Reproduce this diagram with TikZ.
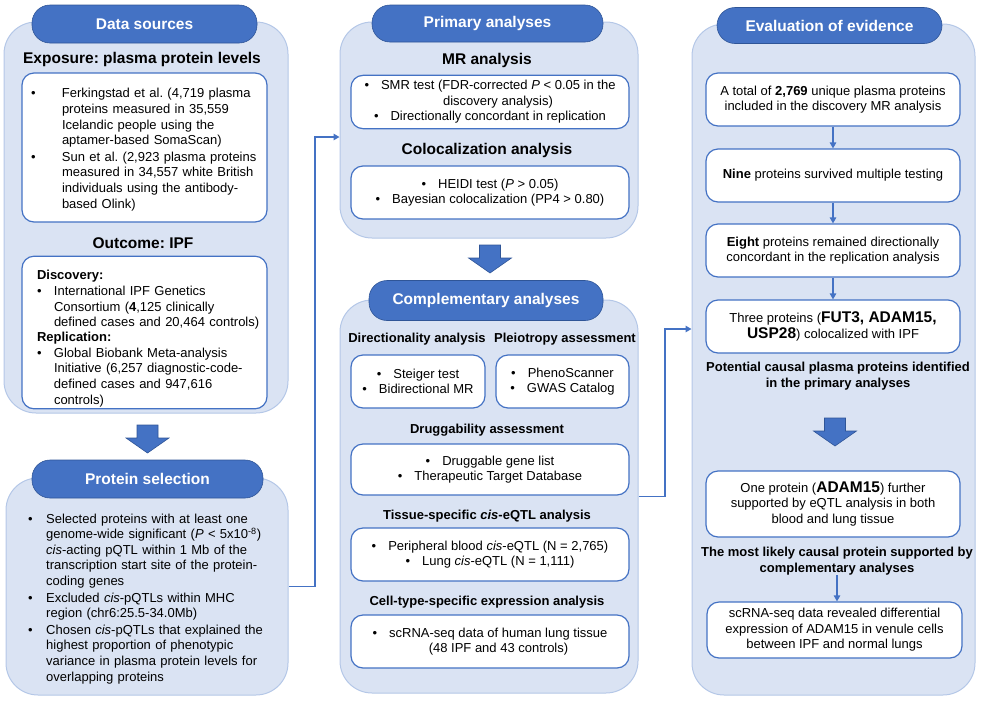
\documentclass[tikz,border=0pt]{standalone}
\usepackage{fontspec}
\setmainfont{Liberation Sans}
\usetikzlibrary{arrows.meta,calc}
\definecolor{panelfill}{HTML}{DAE3F3}
\definecolor{paneldraw}{HTML}{B4C7E7}
\definecolor{hdrblue}{HTML}{4472C4}
\definecolor{hdrdark}{HTML}{2F5597}
\newcommand\body{\fontsize{13}{15.6}\selectfont}
\newcommand\cb{\textbullet\hspace{12pt}}
\newcommand\bigb[1]{{\fontsize{15.5}{18}\selectfont\bfseries #1}}
\newcommand\bitem[2]{\par\noindent\makebox[#1][l]{\textbullet}\begin{tabular}[t]{@{}l@{}}#2\end{tabular}\par}
\tikzset{>={Triangle[length=6pt,width=6.5pt]}}
\tikzset{
  panel/.style={draw=paneldraw, fill=panelfill, line width=1pt, rounded corners=32pt, inner sep=0pt},
  hdr/.style={draw=hdrdark, fill=hdrblue, line width=.6pt, rounded corners=18pt, text=white,
    font=\fontsize{15.5}{18}\selectfont\bfseries, inner sep=0pt},
  inbox/.style={draw=hdrblue, fill=white, line width=1.2pt, rounded corners=12pt, inner sep=5pt, font=\body},
  ttl/.style={font=\fontsize{15.5}{18}\selectfont\bfseries, inner sep=0pt},
  sub/.style={font=\body\bfseries, inner sep=0pt, align=center},
  link/.style={->, draw=hdrblue, line width=1.4pt},
  pics/bigdown/.style={code={
    \draw[fill=hdrblue, draw=hdrdark, line width=.6pt]
      (-10.5,0) -- (10.5,0) -- (10.5,13) -- (21.5,13) -- (0,28) -- (-21.5,13) -- (-10.5,13) -- cycle;}}
}

\begin{document}
\frenchspacing
\begin{tikzpicture}[x=1pt, y=-1pt]
\useasboundingbox (0,0) rectangle (983,705);

% panels
\node[panel, minimum width=284, minimum height=391] (srcpanel) at (146,217.5) {};
\node[panel, minimum width=282, minimum height=217] (selpanel) at (147,586.5) {};
\node[panel, minimum width=298, minimum height=216] (primpanel) at (489,130) {};
\node[panel, minimum width=298, minimum height=393] (comppanel) at (489,496.5) {};
\node[panel, minimum width=283, minimum height=671] (evalpanel) at (833.5,359.5) {};

% headers
\node[hdr, minimum width=225, minimum height=38] (srchdr) at (144.5,24) {Data sources};
\node[hdr, minimum width=231, minimum height=38] (selhdr) at (147.5,479) {Protein selection};
\node[hdr, minimum width=231, minimum height=37] (primhdr) at (487.5,23.5) {Primary analyses};
\node[hdr, minimum width=234, minimum height=40] (comphdr) at (486,300.5) {Complementary analyses};
\node[hdr, minimum width=225, minimum height=36] (evalhdr) at (829.5,25.5) {Evaluation of evidence};

% data sources
\node[ttl] (exptitle) at (142,59) {Exposure: plasma protein levels};
\node[inbox, minimum width=245, minimum height=149, text width=227, align=left] (expbox) at (144.5,147.5)
  {\bitem{31pt}{Ferkingstad et al. (4,719 plasma\\ proteins measured in 35,559\\
   Icelandic people using the\\ aptamer-based SomaScan)}%
   \bitem{31pt}{Sun et al. (2,923 plasma proteins\\ measured in 34,557 white British\\
   individuals using the antibody-\\ based Olink)}};
\node[ttl] (outtitle) at (143,243) {Outcome: IPF};
\node[inbox, inner ysep=0pt, minimum width=245, minimum height=149, text width=215, align=left] (outbox) at (144.5,332.5)
  {\par\vspace*{8pt}\noindent\textbf{Discovery:}\par
   \bitem{17pt}{International IPF Genetics\\ Consortium (\textbf{4},125 clinically\\
   defined cases and 20,464 controls)}%
   \noindent\textbf{Replication:}\par
   \bitem{17pt}{Global Biobank Meta-analysis\\ Initiative (6,257 diagnostic-code-\\
   defined cases and 947,616\\ controls)}\vspace*{-8pt}};
\pic at (147.5,425) {bigdown};

% protein selection
\node[anchor=west, text width=250, align=left, font=\body, inner sep=0pt] (seltext) at (28,596.7)
  {\bitem{18pt}{Selected proteins with at least one\\
   genome-wide significant (\textit{P} < 5x10\textsuperscript{-8})\\
   \textit{cis}-acting pQTL within 1 Mb of the\\
   transcription start site of the protein-\\ coding genes}%
   \bitem{18pt}{Excluded \textit{cis}-pQTLs within MHC\\ region (chr6:25.5-34.0Mb)}%
   \bitem{18pt}{Chosen \textit{cis}-pQTLs that explained the\\ highest proportion of phenotypic\\
   variance in plasma protein levels for\\ overlapping proteins}};

% primary analyses
\node[ttl] (mrtitle) at (487,60) {MR analysis};
\node[inbox, minimum width=278, minimum height=52, align=center] (mrbox) at (490,102)
  {\cb SMR test (FDR-corrected \textit{P} < 0.05 in the\\ \hspace*{16pt}discovery analysis)\\
   \cb Directionally concordant in replication};
\node[ttl] (coloctitle) at (487,150) {Colocalization analysis};
\node[inbox, minimum width=278, minimum height=53, align=center] (colocbox) at (490,192.5)
  {\cb HEIDI test (\textit{P} > 0.05)\\ \cb Bayesian colocalization (PP4 > 0.80)};
\pic at (490,245) {bigdown};

% complementary analyses
\node[sub] (dirtitle) at (417,339) {Directionality analysis};
\node[sub] (pleiotitle) at (565,339) {Pleiotropy assessment};
\node[inbox, minimum width=134, minimum height=53, align=center] (dirbox) at (418,381.5)
  {\cb Steiger test\\ \cb Bidirectional MR};
\node[inbox, minimum width=133, minimum height=53, align=center] (pleiobox) at (562.5,381.5)
  {\cb PhenoScanner\\ \cb GWAS Catalog};
\node[sub] (drugtitle) at (487,430) {Druggability assessment};
\node[inbox, minimum width=278, minimum height=51, align=center] (drugbox) at (490,469.5)
  {\cb Druggable gene list\\ \cb Therapeutic Target Database};
\node[sub] (eqtltitle) at (487,516) {Tissue-specific \textit{cis}-eQTL analysis};
\node[inbox, minimum width=278, minimum height=53, align=center] (eqtlbox) at (490,554.5)
  {\cb Peripheral blood \textit{cis}-eQTL (N = 2,765)\\ \cb Lung \textit{cis}-eQTL (N = 1,111)};
\node[sub] (sctitle) at (487,602) {Cell-type-specific expression analysis};
\node[inbox, minimum width=278, minimum height=53, align=center] (scbox) at (490,641.5)
  {\cb scRNA-seq data of human lung tissue\\ \hspace*{17pt}(48 IPF and 43 controls)};

% evaluation of evidence
\node[inbox, minimum width=254, minimum height=53, align=center] (ev1) at (833,99.5)
  {A total of \textbf{2,769} unique plasma proteins\\ included in the discovery MR analysis};
\node[inbox, minimum width=254, minimum height=53, align=center] (ev2) at (833,175.5)
  {\textbf{Nine} proteins survived multiple testing};
\node[inbox, minimum width=254, minimum height=53, align=center] (ev3) at (833,250.5)
  {\textbf{Eight} proteins remained directionally\\ concordant in the replication analysis};
\node[inbox, minimum width=254, minimum height=53, align=center] (ev4) at (833,326.5)
  {Three proteins (\bigb{FUT3, ADAM15,}\\ \bigb{USP28}) colocalized with IPF};
\node[sub] (note1) at (838,376) {Potential causal plasma proteins identified\\ in the primary analyses};
\pic at (835,418) {bigdown};
\node[inbox, minimum width=254, minimum height=66, align=center] (ev5) at (833,504)
  {One protein (\bigb{ADAM15}) further\\ supported by eQTL analysis in both\\ blood and lung tissue};
\node[sub] (note2) at (837,561) {The most likely causal protein supported by\\ complementary analyses};
\node[inbox, minimum width=255, minimum height=56, align=center] (ev6) at (834.5,630)
  {scRNA-seq data revealed differential\\ expression of ADAM15 in venule cells\\ between IPF and normal lungs};

\draw[link, line width=1.2pt] (ev1) -- (ev2);
\draw[link, line width=1.2pt] (ev2) -- (ev3);
\draw[link, line width=1.2pt] (ev3) -- (ev4);
\draw[link, line width=1.2pt] (note2.south) -- (note2.south |- ev6.north);

% connectors between panels
\coordinate (c1) at (315,137);
\draw[link] (selpanel.east) -| (c1) -- (c1 -| primpanel.west);
\coordinate (c2) at (665,329);
\draw[link] (comppanel.east) -| (c2) -- (c2 -| evalpanel.west);
\end{tikzpicture}
\end{document}
